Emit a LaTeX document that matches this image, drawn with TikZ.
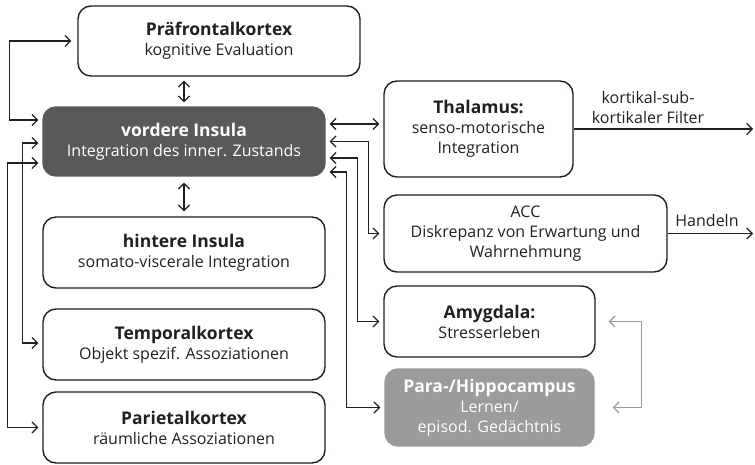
\documentclass[tikz,border=0pt]{standalone}
\usepackage{fontspec}
\setmainfont{Open Sans}
\usetikzlibrary{arrows.meta,calc}
\definecolor{dark}{HTML}{58595B}
\definecolor{mid}{HTML}{9B9B9D}
\definecolor{ink}{HTML}{231F20}
\definecolor{lgray}{HTML}{9A9A9A}
\newcommand{\hdtext}[1]{{\fontsize{17.5}{20}\selectfont\bfseries #1}}
\begin{document}
\begin{tikzpicture}[x=1pt,y=-1pt,
  box/.style={draw=ink,line width=1.4pt,rounded corners=13pt,align=center,
    font=\fontsize{16}{20}\selectfont,text=ink,inner sep=0pt},
  conn/.style={draw=ink,line width=1.3pt,
    {Straight Barb[length=5.5pt,width=11pt,line width=1.2pt]}-{Straight Barb[length=5.5pt,width=11pt,line width=1.2pt]},
    shorten <=4pt,shorten >=4pt},
  oneway/.style={draw=ink,line width=1.3pt,-{Straight Barb[length=5.5pt,width=11pt,line width=1.2pt]}},
  lab/.style={font=\fontsize{16}{20}\selectfont,text=ink,align=center}]
\useasboundingbox (0,0) rectangle (755,464);
\node[box,minimum width=282pt,minimum height=70pt] (pfk) at (219,41)
  {\hdtext{Präfrontalkortex}\\kognitive Evaluation};
\node[box,fill=dark,draw=dark,text=white,minimum width=282pt,minimum height=69pt] (vi) at (184,141.5)
  {\hdtext{vordere Insula}\\Integration des inner. Zustands};
\node[box,minimum width=282pt,minimum height=71pt] (hi) at (184,252.5)
  {\hdtext{hintere Insula}\\somato-viscerale Integration};
\node[box,minimum width=282pt,minimum height=71pt] (tk) at (184,344.5)
  {\hdtext{Temporalkortex}\\Objekt spezif. Assoziationen};
\node[box,minimum width=282pt,minimum height=71pt] (pk) at (184,427.5)
  {\hdtext{Parietalkortex}\\räumliche Assoziationen};
\node[box,minimum width=189pt,minimum height=96pt] (th) at (478.5,129)
  {\hdtext{Thalamus:}\\senso-motorische\\Integration};
\node[box,minimum width=283pt,minimum height=77pt] (acc) at (525.5,233.5)
  {ACC\\Diskrepanz von Erwartung und\\Wahrnehmung};
\node[box,minimum width=211pt,minimum height=71pt] (am) at (489.5,321.5)
  {\hdtext{Amygdala:}\\Stresserleben};
\node[box,fill=mid,draw=mid,text=white,minimum width=209pt,minimum height=77pt] (hc) at (489.5,407.5)
  {\hdtext{Para-/Hippocampus}\\Lernen/\\episod. Gedächtnis};
% vertical links
\draw[conn] (vi.north |- pfk.south) -- (vi.north);
\draw[conn,shorten <=6pt,shorten >=5pt] (vi.south) -- (hi.north);
% left links
\draw[conn,shorten <=6pt] (pfk.west) -- ++(-68,0) |- ([yshift=21.5pt]vi.west);
\draw[conn] ([yshift=-1.5pt]vi.west) -- ++(-20,0) |- ([yshift=1.5pt]tk.west);
\draw[conn] ([yshift=-21.5pt]vi.west) -- ++(-35,0) |- (pk.west);
% right links
\draw[conn] ([yshift=17.5pt]vi.east) -- ([yshift=5pt]th.west);
\draw[conn] (vi.east) -- ++(43,0) |- (acc.west);
\draw[conn] ([yshift=-16.5pt]vi.east) -- ++(32,0) |- (am.west);
\draw[conn] ([yshift=-30.5pt]vi.east) -- ++(21,0) |- (hc.west);
% outputs
\coordinate (o1) at (753,129);
\coordinate (o2) at (753,233.5);
\draw[oneway] (th.east) -- (o1);
\draw[oneway] (acc.east) -- (o2);
\node[lab] (l1) at (648,107) {kortikal-sub-\\kortikaler Filter};
\node[lab] (l2) at (707,220) {Handeln};
% gray loop
\draw[conn,draw=lgray,line width=1.1pt,shorten <=13pt,shorten >=18pt] (am.east) -- ++(46,0) |- (hc.east);
\end{tikzpicture}
\end{document}
